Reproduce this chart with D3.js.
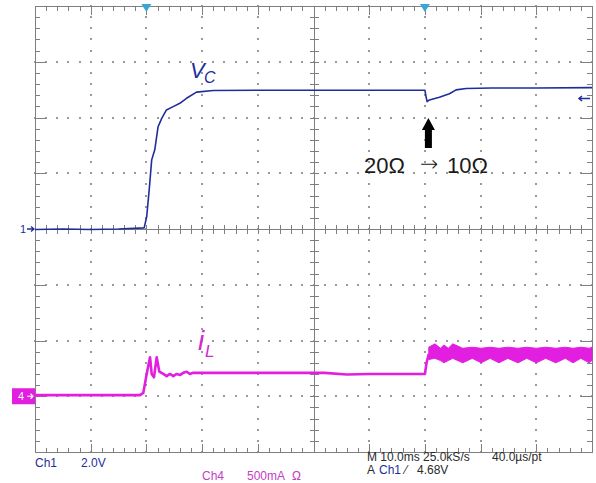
<!DOCTYPE html>
<html><head><meta charset="utf-8">
<script src="https://cdn.jsdelivr.net/npm/d3@7"></script>
<style>body{margin:0;background:#fff}svg{display:block}</style>
</head><body><svg id="c" width="596" height="483"></svg>
<script>
// ---- data (time in ms, 10 ms/div) ----
const timeDomain = [0, 100];
const voltDomain = [-8, 8];      // Ch1, 2.0 V/div
const ampDomain = [-0.5, 3.5];   // Ch4, 500 mA/div
const triggerTimes = [20, 70];
const triggerLevel = 4.68;

const vcTime  = [0, 5, 10, 15, 19.6, 20.05, 20.5, 20.95, 21.5, 22.1, 22.75, 23.6, 24.8, 26.0, 27.2, 29.0, 32.0, 40, 50, 60, 70.0, 70.2, 70.4, 70.8, 72.6, 74.4, 75.6, 77.4, 82, 90, 100];
const vcVolts = [-0.02, 0, -0.02, 0, 0.04, 0.44, 1.40, 2.48, 2.84, 3.67, 3.97, 4.27, 4.39, 4.51, 4.69, 4.91, 4.97, 4.98, 4.98, 4.98, 4.98, 4.75, 4.57, 4.63, 4.73, 4.85, 4.99, 5.04, 5.06, 5.06, 5.07];

const ilTime = [0, 10, 18.85, 19.44, 20.05, 20.65, 20.95, 21.36, 21.85, 22.32, 23.03, 23.64, 24.24, 24.83, 25.44, 26.03, 26.6, 27.24, 27.8, 28.4, 29.6, 40, 52, 56, 60, 70.0, 70.3, 70.7];
const ilAmps = [0.01, 0.01, 0.01, 0.03, 0.20, 0.35, 0.20, 0.17, 0.35, 0.22, 0.20, 0.18, 0.20, 0.18, 0.20, 0.19, 0.21, 0.22, 0.20, 0.21, 0.21, 0.21, 0.21, 0.195, 0.20, 0.20, 0.30, 0.38];

const bandTime = [70.7, 71.8, 72.8, 73.4, 74.2, 75.0, 76.8, 78.5, 80.1, 81.7, 83.3, 84.9, 86.7, 88.3, 90.0, 91.7, 93.5, 95.2, 96.6, 98.0, 99.5, 100];
const bandHigh = [0.44, 0.47, 0.43, 0.46, 0.43, 0.47, 0.43, 0.44, 0.43, 0.44, 0.43, 0.44, 0.43, 0.44, 0.43, 0.44, 0.43, 0.44, 0.43, 0.44, 0.43, 0.44];
const bandLow  = [0.33, 0.34, 0.32, 0.30, 0.32, 0.34, 0.30, 0.34, 0.30, 0.34, 0.30, 0.34, 0.30, 0.34, 0.30, 0.34, 0.30, 0.34, 0.30, 0.34, 0.30, 0.32];

const statusLeft = ["Ch1", "2.0V"];
const statusCh4 = ["Ch4", "500mA", "Ω"];
const statusRight1 = ["M 10.0ms 25.0kS/s", "40.0µs/pt"];
const statusRight2 = ["A", "Ch1", "⁄", "4.68V"];
const loadLabels = ["20Ω", "→", "10Ω"];

// ---- layout ----
const L = 35, R = 592, T = 6, B = 452;
const svg = d3.select("#c");
const x = d3.scaleLinear(timeDomain, [L, R]);
const yV = d3.scaleLinear(voltDomain, [B, T]);
const yI = d3.scaleLinear(ampDomain, [B, T]);
const px = v => Math.round(v) + 0.5;

const gridCol = "#7f7f7f", dotCol = "#9a9a9a";
const blue = "#1f2d9a", mag = "#e21ee0", magText = "#c43cc4";

const majorX = d3.range(0, 100.001, 10);
const minorX = d3.range(0, 100.001, 2);
const majorY = d3.range(-8, 8.001, 2);
const minorY = d3.range(-8, 8.001, 0.4);

const g = svg.append("g").attr("shape-rendering", "crispEdges");
// dotted grid
majorY.filter(v => v !== -8 && v !== 0 && v !== 8).forEach(v => {
  minorX.forEach(t => {
    g.append("rect").attr("x", Math.round(x(t)) - 1).attr("y", Math.round(yV(v)) - 1).attr("width", 2).attr("height", 2).attr("fill", dotCol);
  });
});
majorX.filter(t => t !== 0 && t !== 50 && t !== 100).forEach(t => {
  minorY.forEach(v => {
    g.append("rect").attr("x", Math.round(x(t)) - 1).attr("y", Math.round(yV(v)) - 1).attr("width", 2).attr("height", 2).attr("fill", dotCol);
  });
});
// frame
g.append("rect").attr("x", px(L)).attr("y", px(T)).attr("width", Math.round(R - L)).attr("height", Math.round(B - T))
  .attr("fill", "none").attr("stroke", gridCol).attr("stroke-width", 1);
// center axes
g.append("line").attr("x1", px(x(50))).attr("x2", px(x(50))).attr("y1", T).attr("y2", B).attr("stroke", gridCol);
g.append("line").attr("x1", L).attr("x2", R).attr("y1", px(yV(0))).attr("y2", px(yV(0))).attr("stroke", gridCol);

function isMajor(v, step) { return Math.abs(v / step - Math.round(v / step)) < 1e-6; }
// ticks along x (top, bottom, center)
minorX.forEach(t => {
  const m = isMajor(t, 10);
  const xx = px(x(t));
  g.append("line").attr("x1", xx).attr("x2", xx).attr("y1", T).attr("y2", T + (m ? 9 : 5)).attr("stroke", gridCol);
  g.append("line").attr("x1", xx).attr("x2", xx).attr("y1", B).attr("y2", B - (m ? 8 : 4)).attr("stroke", gridCol);
  g.append("line").attr("x1", xx).attr("x2", xx).attr("y1", yV(0) - 4).attr("y2", yV(0) + 5).attr("stroke", gridCol);
});
minorY.forEach(v => {
  const m = isMajor(v, 2);
  const yy = px(yV(v));
  g.append("line").attr("x1", L).attr("x2", L + (m ? 11 : 5)).attr("y1", yy).attr("y2", yy).attr("stroke", gridCol);
  g.append("line").attr("x1", R).attr("x2", R - (m ? 11 : 5)).attr("y1", yy).attr("y2", yy).attr("stroke", gridCol);
  g.append("line").attr("x1", x(50) - 4).attr("x2", x(50) + 5).attr("y1", yy).attr("y2", yy).attr("stroke", gridCol);
});

// trigger position markers
triggerTimes.forEach(t => {
  const xx = x(t);
  svg.append("path").attr("d", `M${xx - 5},${T - 2}L${xx + 5},${T - 2}L${xx},${T + 6}Z`).attr("fill", "#3aa6d6");
});

// traces
const vcData = vcTime.map((t, i) => [t, vcVolts[i]]);
svg.append("path").datum(vcData)
  .attr("d", d3.line().x(d => x(d[0])).y(d => yV(d[1])))
  .attr("fill", "none").attr("stroke", blue).attr("stroke-width", 1.6).attr("stroke-linejoin", "round");

const ilData = ilTime.map((t, i) => [t, ilAmps[i]]);
svg.append("path").datum(ilData)
  .attr("d", d3.line().x(d => x(d[0])).y(d => yI(d[1])))
  .attr("fill", "none").attr("stroke", mag).attr("stroke-width", 2.6).attr("stroke-linejoin", "round");

const bandData = bandTime.map((t, i) => [t, bandLow[i], bandHigh[i]]);
svg.append("path").datum(bandData)
  .attr("d", d3.area().x(d => x(d[0])).y0(d => yI(d[1])).y1(d => yI(d[2])))
  .attr("fill", mag).attr("stroke", mag).attr("stroke-width", 1);

// channel ground markers
svg.append("text").attr("x", 20).attr("y", yV(0) + 4).attr("font-family", "Liberation Sans, Arial, sans-serif")
  .attr("font-size", 11).attr("fill", blue).text("1");
svg.append("path").attr("d", `M27,${yV(0)}L34,${yV(0)}M31,${yV(0) - 2.5}L34,${yV(0)}L31,${yV(0) + 2.5}`)
  .attr("stroke", blue).attr("stroke-width", 1.3).attr("fill", "none");

svg.append("rect").attr("x", 12).attr("y", yI(0) - 8).attr("width", 23).attr("height", 16).attr("fill", mag);
svg.append("text").attr("x", 18).attr("y", yI(0) + 4).attr("font-family", "Liberation Sans, Arial, sans-serif")
  .attr("font-size", 11).attr("fill", "#fff").text("4");
svg.append("path").attr("d", `M27,${yI(0)}L33,${yI(0)}M30.5,${yI(0) - 2.5}L33,${yI(0)}L30.5,${yI(0) + 2.5}`)
  .attr("stroke", "#fff").attr("stroke-width", 1.2).attr("fill", "none");

// trigger level marker (right)
const ty = yV(triggerLevel);
svg.append("path").attr("d", `M579,${ty}L590,${ty}M582,${ty - 2.5}L579,${ty}L582,${ty + 2.5}`)
  .attr("stroke", blue).attr("stroke-width", 1.5).attr("fill", "none");

// trace labels
const lab = svg.append("g").attr("font-family", "Liberation Sans, Arial, sans-serif").attr("font-style", "italic");
lab.append("text").attr("x", 190).attr("y", 78).attr("font-size", 22).attr("fill", blue).text("V");
lab.append("text").attr("x", 204).attr("y", 83).attr("font-size", 16).attr("fill", blue).text("C");
lab.append("text").attr("x", 198).attr("y", 350).attr("font-size", 28).attr("fill", "#d02ccc").text("i");
lab.append("text").attr("x", 205).attr("y", 357).attr("font-size", 17).attr("fill", "#d02ccc").text("L");

// load-step annotation
const ax = x(triggerTimes[1]) + 3.5;
svg.append("path").attr("d", `M${ax - 6.5},130L${ax},118L${ax + 6.5},130L${ax + 3.5},130L${ax + 3.5},148L${ax - 3.5},148L${ax - 3.5},130Z`)
  .attr("fill", "#000");
const ann = svg.append("g").attr("font-family", "Liberation Sans, Arial, sans-serif").attr("fill", "#1a1a1a");
ann.append("text").attr("x", 364).attr("y", 173).attr("font-size", 22).text(loadLabels[0]);
ann.append("text").attr("x", 420).attr("y", 171).attr("font-size", 22).attr("font-family", "DejaVu Sans").attr("font-weight", 300).text(loadLabels[1]);
ann.append("text").attr("x", 447).attr("y", 173).attr("font-size", 22).text(loadLabels[2]);

// status bar
const st = svg.append("g").attr("font-family", "Liberation Sans, Arial, sans-serif").attr("font-size", 12);
st.append("text").attr("x", 35).attr("y", 467).attr("fill", blue).text(statusLeft[0]);
st.append("text").attr("x", 81).attr("y", 467).attr("fill", blue).text(statusLeft[1]);
st.append("text").attr("x", 202).attr("y", 480).attr("fill", magText).text(statusCh4[0]);
st.append("text").attr("x", 247).attr("y", 480).attr("fill", magText).text(statusCh4[1]);
st.append("text").attr("x", 292).attr("y", 480).attr("fill", magText).text(statusCh4[2]);
st.append("text").attr("x", 367).attr("y", 461).attr("fill", "#2a2a2a").text(statusRight1[0]);
st.append("text").attr("x", 492).attr("y", 461).attr("fill", "#2a2a2a").text(statusRight1[1]);
st.append("text").attr("x", 367).attr("y", 474).attr("fill", "#2a2a2a").text(statusRight2[0]);
st.append("text").attr("x", 379).attr("y", 474).attr("fill", blue).text(statusRight2[1]);
st.append("text").attr("x", 405).attr("y", 474).attr("fill", "#2a2a2a").text(statusRight2[2]);
st.append("text").attr("x", 417).attr("y", 474).attr("fill", "#2a2a2a").text(statusRight2[3]);
</script></body></html>
